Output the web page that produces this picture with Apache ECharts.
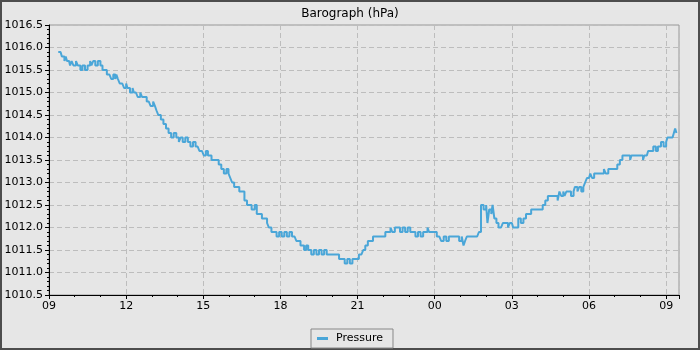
<!DOCTYPE html>
<html>
<head>
<meta charset="utf-8">
<style>
html,body{margin:0;padding:0;background:#e6e6e6;}
#chart{width:700px;height:350px;}
</style>
<script src="https://cdn.jsdelivr.net/npm/echarts@6/dist/echarts.min.js"></script>
</head>
<body>
<div id="chart"></div>
<script>
// hours since 09:00 on the first day
var hours = [
0.36,0.45,0.50,0.55,0.60,0.65,0.70,0.78,0.82,0.88,0.95,1.05,1.12,1.17,1.22,1.30,1.40,1.50,1.55,1.60,
1.65,1.72,1.80,1.90,2.00,2.08,2.15,2.25,2.35,2.42,2.50,2.58,2.62,2.68,2.75,2.85,2.92,3.00,3.05,3.15,
3.25,3.30,3.38,3.45,3.55,3.62,3.70,3.80,3.88,3.95,4.05,4.12,4.18,4.25,4.35,4.45,4.55,4.65,4.75,4.85,
4.95,5.05,5.12,5.20,5.30,5.40,5.50,5.60,5.70,5.78,5.85,5.95,6.02,6.10,6.18,6.25,6.32,6.45,6.60,6.70,
6.80,6.90,6.98,7.05,7.12,7.20,7.30,7.40,7.50,7.60,7.70,7.80,7.88,8.00,8.08,8.18,8.28,8.40,8.48,8.55,
8.65,8.75,8.85,8.95,9.05,9.15,9.25,9.35,9.45,9.55,9.62,9.70,9.78,9.85,9.92,10.00,10.08,10.15,10.20,10.30,
10.40,10.50,10.60,10.70,10.80,10.90,11.05,11.20,11.28,11.40,11.50,11.60,11.70,11.80,11.95,12.05,12.15,12.22,12.30,12.40,
12.50,12.60,12.80,13.00,13.08,13.20,13.28,13.35,13.45,13.55,13.65,13.75,13.85,13.95,14.05,14.15,14.25,14.35,14.45,14.55,
14.62,14.72,14.78,14.90,15.00,15.08,15.18,15.25,15.35,15.45,15.55,15.65,15.75,15.85,15.95,16.05,16.12,16.18,16.25,16.40,
16.55,16.65,16.72,16.80,16.90,17.00,17.05,17.12,17.20,17.25,17.32,17.40,17.48,17.58,17.65,17.75,17.85,17.92,18.00,18.05,
18.15,18.25,18.35,18.45,18.55,18.65,18.75,18.90,19.10,19.20,19.30,19.40,19.50,19.60,19.70,19.78,19.85,19.92,20.00,20.05,
20.12,20.20,20.30,20.40,20.45,20.55,20.62,20.70,20.78,20.85,20.92,21.00,21.05,21.12,21.20,21.30,21.40,21.50,21.58,21.65,
21.75,21.85,22.00,22.10,22.20,22.30,22.50,22.60,22.65,22.90,23.00,23.10,23.15,23.25,23.30,23.40,23.50,23.60,23.68,23.80,
23.90,24.00,24.05,24.15,24.25,24.30,24.35,24.40
];
var pressure = [
1015.9,1015.9,1015.8,1015.8,1015.7,1015.8,1015.7,1015.7,1015.6,1015.7,1015.6,1015.7,1015.6,1015.6,1015.5,1015.6,1015.5,1015.6,1015.6,1015.7,
1015.6,1015.7,1015.6,1015.7,1015.6,1015.5,1015.5,1015.4,1015.4,1015.3,1015.4,1015.3,1015.4,1015.3,1015.2,1015.2,1015.1,1015.2,1015.1,1015.0,
1015.1,1015.0,1015.0,1014.9,1015.0,1014.9,1014.9,1014.8,1014.8,1014.7,1014.8,1014.7,1014.6,1014.5,1014.4,1014.3,1014.2,1014.1,1014.0,1014.1,
1014.0,1013.9,1014.0,1013.9,1014.0,1013.9,1013.8,1013.9,1013.8,1013.8,1013.7,1013.7,1013.6,1013.7,1013.6,1013.6,1013.5,1013.5,1013.4,1013.3,
1013.2,1013.3,1013.2,1013.1,1013.0,1012.9,1012.9,1012.8,1012.8,1012.6,1012.5,1012.5,1012.4,1012.5,1012.3,1012.3,1012.2,1012.2,1012.1,1012.0,
1011.9,1011.9,1011.8,1011.9,1011.8,1011.9,1011.8,1011.9,1011.8,1011.8,1011.7,1011.7,1011.6,1011.6,1011.5,1011.6,1011.5,1011.5,1011.4,1011.5,
1011.4,1011.5,1011.4,1011.5,1011.4,1011.4,1011.4,1011.4,1011.3,1011.3,1011.2,1011.3,1011.2,1011.3,1011.3,1011.4,1011.4,1011.5,1011.6,1011.7,
1011.7,1011.8,1011.8,1011.8,1011.9,1011.9,1012.0,1011.9,1012.0,1012.0,1011.9,1012.0,1011.9,1012.0,1011.9,1011.9,1011.8,1011.9,1011.8,1011.9,
1011.9,1012.0,1011.9,1011.9,1011.9,1011.8,1011.8,1011.7,1011.8,1011.7,1011.8,1011.8,1011.8,1011.8,1011.7,1011.8,1011.6,1011.7,1011.8,1011.8,
1011.8,1011.8,1011.9,1012.5,1012.4,1012.5,1012.1,1012.4,1012.3,1012.5,1012.2,1012.1,1012.0,1012.0,1012.1,1012.1,1012.0,1012.1,1012.1,1012.0,
1012.0,1012.2,1012.1,1012.2,1012.3,1012.3,1012.4,1012.4,1012.4,1012.5,1012.6,1012.7,1012.7,1012.7,1012.7,1012.6,1012.8,1012.7,1012.8,1012.7,
1012.8,1012.8,1012.7,1012.8,1012.9,1012.8,1012.9,1012.8,1012.9,1013.0,1013.1,1013.1,1013.2,1013.1,1013.2,1013.2,1013.2,1013.2,1013.3,1013.2,
1013.3,1013.3,1013.3,1013.4,1013.5,1013.6,1013.6,1013.5,1013.6,1013.6,1013.6,1013.5,1013.6,1013.6,1013.7,1013.7,1013.8,1013.7,1013.8,1013.9,
1013.8,1013.9,1014.0,1014.0,1014.0,1014.1,1014.2,1014.1
];
var hourLabels = ['09','12','15','18','21','00','03','06','09'];

var data = [];
for (var i = 0; i < hours.length; i++) data.push([hours[i], pressure[i]]);

var font = 'DejaVu Sans';
var myChart = echarts.init(document.getElementById('chart'), null, {renderer: 'canvas'});
var option = {
    backgroundColor: '#e6e6e6',
    animation: false,
    title: {
        text: 'Barograph (hPa)',
        left: 'center',
        top: 3,
        textStyle: {fontFamily: font, fontSize: 12, fontWeight: 'normal', color: '#000'}
    },
    graphic: [{
        type: 'rect',
        shape: {x: 1, y: 1, width: 698, height: 348},
        style: {fill: 'none', stroke: '#4d4d4d', lineWidth: 2},
        silent: true
    }],
    grid: {
        left: 49, right: 21, top: 25, bottom: 55,
        show: true, borderColor: '#999', borderWidth: 1, backgroundColor: 'transparent'
    },
    legend: {
        bottom: 2,
        left: 'center',
        data: ['Pressure'],
        icon: 'rect',
        itemWidth: 11,
        itemHeight: 3,
        itemGap: 6,
        padding: [4, 10, 4, 6],
        borderColor: '#888',
        borderWidth: 1,
        backgroundColor: '#e6e6e6',
        textStyle: {fontFamily: font, fontSize: 11, color: '#000', padding: [0, 0, 0, 3]}
    },
    xAxis: {
        type: 'value',
        min: 0,
        max: 24.5,
        interval: 3,
        axisLine: {lineStyle: {color: '#000'}},
        axisTick: {length: 4, lineStyle: {color: '#000'}},
        minorTick: {show: true, splitNumber: 3, length: 2, lineStyle: {color: '#000'}},
        splitLine: {show: true, lineStyle: {color: '#bdbdbd', type: [5, 3]}},
        axisLabel: {
            fontFamily: font, fontSize: 11, color: '#000', margin: 6,
            showMaxLabel: false,
            formatter: function (v) { return hourLabels[Math.round(v / 3)] || ''; }
        }
    },
    yAxis: {
        type: 'value',
        min: 1010.5,
        max: 1016.5,
        interval: 0.5,
        axisLine: {show: true, lineStyle: {color: '#000'}},
        axisTick: {show: true, length: 4, lineStyle: {color: '#000'}},
        minorTick: {show: true, splitNumber: 5, length: 2, lineStyle: {color: '#000'}},
        splitLine: {show: true, lineStyle: {color: '#bdbdbd', type: [5, 3]}},
        axisLabel: {
            fontFamily: font, fontSize: 11, color: '#000', margin: 6,
            formatter: function (v) { return v.toFixed(1); }
        }
    },
    series: [{
        name: 'Pressure',
        type: 'line',
        step: 'end',
        data: data,
        showSymbol: false,
        symbol: 'none',
        itemStyle: {color: '#4aa6d8'},
        lineStyle: {color: '#4aa6d8', width: 2}
    }]
};
myChart.setOption(option, true);
</script>
</body>
</html>
